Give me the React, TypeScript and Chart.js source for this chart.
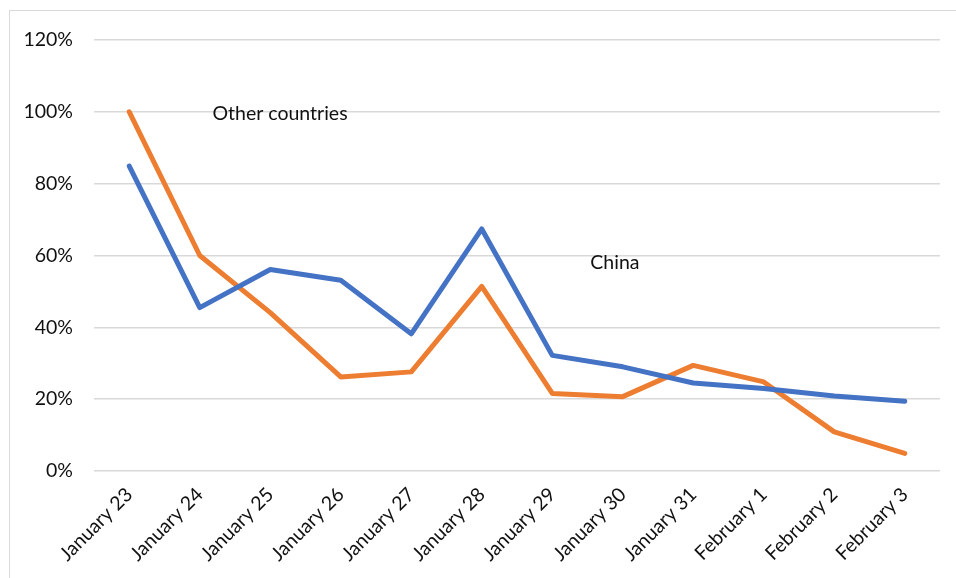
import React, { useEffect, useRef } from "react";
import { Chart, registerables } from "chart.js";

Chart.register(...registerables);

// Daily growth rate of confirmed cases
const categories = [
  "January 23", "January 24", "January 25", "January 26", "January 27", "January 28",
  "January 29", "January 30", "January 31", "February 1", "February 2", "February 3",
];
const chinaValues = [84.9, 45.5, 56.1, 53.1, 38.2, 67.4, 32.2, 29.0, 24.5, 23.0, 20.9, 19.4];
const otherValues = [100, 60, 44.1, 26.2, 27.6, 51.4, 21.6, 20.7, 29.4, 24.8, 10.9, 4.9];
const yTicks = [0, 20, 40, 60, 80, 100, 120];

// In-plot series labels, positioned in data coordinates (category index, percent)
const seriesLabels = [
  { text: "Other countries", x: 1.18, y: 99.4 },
  { text: "China", x: 6.54, y: 58 },
];

const FONT = "Lato, 'Open Sans', 'Liberation Sans', sans-serif";
const FONT_SIZE = 19.5;

const seriesLabelPlugin = {
  id: "seriesLabels",
  afterDatasetsDraw(chart: any) {
    const { ctx, scales } = chart;
    ctx.save();
    ctx.font = `${FONT_SIZE}px ${FONT}`;
    ctx.fillStyle = "#111";
    ctx.textAlign = "left";
    ctx.textBaseline = "middle";
    for (const l of seriesLabels) {
      ctx.fillText(l.text, scales.x.getPixelForValue(l.x), scales.y.getPixelForValue(l.y));
    }
    ctx.restore();
  },
};

export default function App() {
  const canvasRef = useRef<HTMLCanvasElement | null>(null);

  useEffect(() => {
    if (!canvasRef.current) return;
    const chart = new Chart(canvasRef.current, {
      type: "line",
      data: {
        labels: categories,
        datasets: [
          {
            label: "China",
            data: chinaValues,
            borderColor: "#4472C4",
            backgroundColor: "#4472C4",
            borderWidth: 5,
            pointRadius: 0,
            tension: 0,
            borderCapStyle: "round",
            borderJoinStyle: "round",
          },
          {
            label: "Other countries",
            data: otherValues,
            borderColor: "#ED7D31",
            backgroundColor: "#ED7D31",
            borderWidth: 5,
            pointRadius: 0,
            tension: 0,
            borderCapStyle: "round",
            borderJoinStyle: "round",
          },
        ],
      },
      options: {
        animation: false,
        responsive: false,
        maintainAspectRatio: false,
        layout: { padding: { top: 40, right: 16, left: 0, bottom: 0 } },
        plugins: {
          legend: { display: false },
          tooltip: { enabled: false },
        },
        scales: {
          x: {
            offset: true,
            grid: { display: false, drawTicks: false },
            border: { display: false },
            ticks: {
              autoSkip: false,
              maxRotation: 45,
              minRotation: 45,
              padding: 12,
              color: "#111",
              font: { family: FONT, size: FONT_SIZE },
            },
            afterFit(scale: any) {
              scale.height = 107;
            },
          },
          y: {
            min: 0,
            max: 120,
            afterBuildTicks(scale: any) {
              scale.ticks = yTicks.map((v) => ({ value: v }));
            },
            grid: { color: "#d9d9d9", lineWidth: 1.5, drawTicks: false },
            border: { display: false },
            ticks: {
              padding: 21,
              color: "#111",
              font: { family: FONT, size: FONT_SIZE },
              callback: (v: any) => `${v}%`,
            },
            afterFit(scale: any) {
              scale.width = 94;
            },
          },
        },
      },
      plugins: [seriesLabelPlugin],
    });
    return () => chart.destroy();
  }, []);

  return (
    <div style={{ position: "fixed", left: 0, top: 0, width: 956, height: 578, background: "#fff" }}>
      <div
        style={{
          position: "absolute",
          left: 9,
          top: 10,
          width: 960,
          height: 580,
          border: "1.5px solid #d9d9d9",
          boxSizing: "border-box",
        }}
      />
      <canvas ref={canvasRef} width={956} height={578} style={{ position: "absolute", left: 0, top: 0 }} />
    </div>
  );
}
